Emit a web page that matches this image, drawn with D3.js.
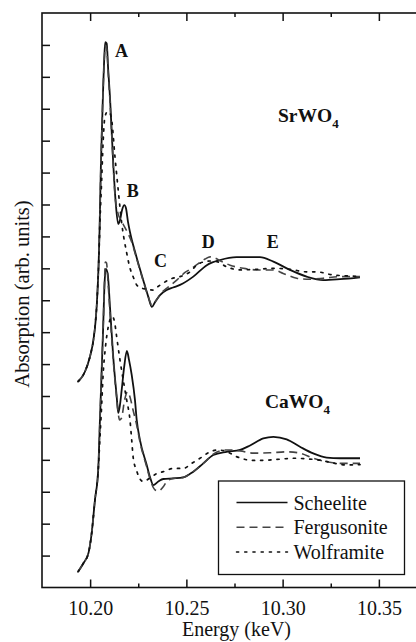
<!DOCTYPE html>
<html>
<head>
<meta charset="utf-8">
<script src="https://cdn.jsdelivr.net/npm/d3@7"></script>
<style>
  html, body { margin: 0; padding: 0; background: #fff; }
  svg { display: block; }
  svg text { font-family: "Liberation Serif", "Times New Roman", Times, "DejaVu Serif", serif !important; fill: #111; }
</style>
</head>
<body>
<svg id="chart" width="416" height="642" font-family="Liberation Serif, Times New Roman, DejaVu Serif, serif"></svg>
<script>
// W L3-edge XANES spectra (energy in keV, absorption in arbitrary units, curves offset vertically)
const energyTicks = [10.20, 10.25, 10.30, 10.35];
const energyMinorTicks = [10.225, 10.275, 10.325];
const absorptionTicks = d3.range(1, 18);

const srwo4Scheelite = [
  [10.1937,6.45],[10.1973,6.76],[10.1999,7.23],[10.2017,7.75],[10.2028,8.32],[10.2036,9.01],
  [10.2044,10.10],[10.2049,11.20],[10.2056,13.24],[10.2067,15.52],[10.2075,16.78],[10.2079,17.09],
  [10.2086,17.05],[10.2094,16.21],[10.2103,15.38],[10.2120,13.29],[10.2133,12.05],[10.2146,11.39],
  [10.2155,11.51],[10.2166,11.83],[10.2178,11.98],[10.2186,11.89],[10.2197,11.45],[10.2207,11.14],
  [10.2238,10.42],[10.2276,9.63],[10.2301,9.13],[10.2321,8.79],[10.2337,8.94],[10.2363,9.16],
  [10.2398,9.32],[10.2431,9.40],[10.2467,9.48],[10.2536,9.74],[10.2606,10.10],[10.2675,10.26],
  [10.2761,10.35],[10.2882,10.35],[10.2952,10.21],[10.3038,9.95],[10.3125,9.74],[10.3211,9.63],
  [10.3298,9.66],[10.3402,9.72]
];
const srwo4Fergusonite = [
  [10.1937,6.45],[10.1973,6.76],[10.1999,7.23],[10.2017,7.75],[10.2028,8.32],[10.2036,9.01],
  [10.2044,10.10],[10.2049,11.20],[10.2056,13.24],[10.2067,15.52],[10.2075,16.70],[10.2080,16.98],
  [10.2086,16.90],[10.2094,16.12],[10.2103,15.27],[10.2120,13.24],[10.2129,12.30],[10.2146,11.70],
  [10.2160,11.51],[10.2176,11.33],[10.2198,11.08],[10.2218,10.79],[10.2238,10.38],[10.2276,9.60],
  [10.2301,9.13],[10.2321,8.85],[10.2342,8.99],[10.2372,9.24],[10.2405,9.41],[10.2450,9.63],
  [10.2493,9.87],[10.2528,10.00],[10.2560,10.14],[10.2597,10.29],[10.2623,10.36],[10.2649,10.32],
  [10.2684,10.21],[10.2727,10.10],[10.2796,10.00],[10.2882,9.95],[10.2952,9.95],[10.3003,9.84],
  [10.3073,9.69],[10.3125,9.66],[10.3211,9.69],[10.3298,9.74],[10.3402,9.74]
];
const srwo4Wolframite = [
  [10.1937,6.45],[10.1973,6.76],[10.1999,7.23],[10.2017,7.75],[10.2028,8.32],[10.2036,9.01],
  [10.2044,10.10],[10.2051,11.42],[10.2060,12.77],[10.2068,14.02],[10.2077,14.75],[10.2091,14.91],
  [10.2101,14.88],[10.2112,14.65],[10.2129,13.50],[10.2146,12.45],[10.2164,11.42],[10.2190,10.48],
  [10.2207,10.01],[10.2224,9.73],[10.2242,9.48],[10.2259,9.40],[10.2290,9.35],[10.2328,9.32],
  [10.2353,9.43],[10.2380,9.54],[10.2424,9.68],[10.2467,9.74],[10.2519,9.89],[10.2554,10.10],
  [10.2588,10.20],[10.2623,10.23],[10.2658,10.21],[10.2709,10.05],[10.2779,9.95],[10.2865,9.97],
  [10.2952,10.00],[10.3038,9.97],[10.3125,9.89],[10.3177,9.89],[10.3263,9.79],[10.3350,9.76],
  [10.3402,9.74]
];

const cawo4Scheelite = [
  [10.1937,0.49],[10.1965,0.76],[10.1991,1.07],[10.2008,1.70],[10.2025,2.74],[10.2042,3.68],
  [10.2051,5.25],[10.2060,6.80],[10.2068,8.20],[10.2074,9.40],[10.2081,9.98],[10.2091,9.84],
  [10.2103,8.80],[10.2120,7.23],[10.2138,5.98],[10.2146,5.47],[10.2155,5.72],[10.2164,6.19],
  [10.2177,6.92],[10.2191,7.41],[10.2202,7.13],[10.2216,6.66],[10.2233,5.87],[10.2242,5.25],
  [10.2259,4.62],[10.2294,3.84],[10.2311,3.46],[10.2328,3.21],[10.2354,3.32],[10.2380,3.40],
  [10.2432,3.42],[10.2484,3.45],[10.2536,3.63],[10.2588,3.89],[10.2640,4.15],[10.2709,4.25],
  [10.2779,4.31],[10.2831,4.45],[10.2900,4.67],[10.2952,4.72],[10.3021,4.64],[10.3090,4.41],
  [10.3159,4.20],[10.3229,4.07],[10.3298,4.05],[10.3402,4.05]
];
const cawo4Fergusonite = [
  [10.1937,0.49],[10.1965,0.76],[10.1991,1.07],[10.2008,1.70],[10.2025,2.74],[10.2042,3.68],
  [10.2051,5.25],[10.2060,6.80],[10.2068,8.20],[10.2074,9.40],[10.2079,10.20],[10.2085,10.17],
  [10.2093,9.57],[10.2103,8.63],[10.2120,7.13],[10.2138,5.94],[10.2153,5.25],[10.2163,5.31],
  [10.2179,5.87],[10.2194,6.13],[10.2207,5.97],[10.2223,5.56],[10.2242,5.09],[10.2259,4.56],
  [10.2294,3.78],[10.2316,3.31],[10.2337,3.06],[10.2354,3.02],[10.2380,3.16],[10.2398,3.32],
  [10.2432,3.42],[10.2484,3.45],[10.2536,3.63],[10.2588,3.89],[10.2640,4.18],[10.2709,4.31],
  [10.2779,4.28],[10.2848,4.21],[10.2934,4.22],[10.3021,4.25],[10.3090,4.21],[10.3159,4.05],
  [10.3229,3.94],[10.3298,3.89],[10.3402,3.89]
];
const cawo4Wolframite = [
  [10.1937,0.49],[10.1965,0.76],[10.1991,1.07],[10.2008,1.70],[10.2025,2.74],[10.2042,3.68],
  [10.2051,4.68],[10.2060,5.72],[10.2068,6.72],[10.2079,7.50],[10.2094,8.16],[10.2106,8.43],
  [10.2116,8.49],[10.2127,8.32],[10.2138,7.85],[10.2155,7.13],[10.2172,6.50],[10.2190,5.87],
  [10.2207,5.25],[10.2216,4.62],[10.2224,4.06],[10.2242,3.65],[10.2259,3.40],[10.2276,3.32],
  [10.2311,3.43],[10.2346,3.57],[10.2380,3.63],[10.2432,3.73],[10.2484,3.73],[10.2528,3.89],
  [10.2571,4.05],[10.2623,4.25],[10.2664,4.31],[10.2709,4.26],[10.2761,4.10],[10.2848,3.98],
  [10.2917,3.99],[10.2986,4.02],[10.3055,4.05],[10.3125,4.03],[10.3194,3.99],[10.3263,3.90],
  [10.3333,3.84],[10.3402,3.85]
];

// Feature letters and compound names, anchored in data coordinates
const featureLabels = [
  { text: "A", e: 10.2129, a: 16.62 },
  { text: "B", e: 10.2190, a: 12.23 },
  { text: "C", e: 10.2332, a: 10.04 },
  { text: "D", e: 10.2580, a: 10.64 },
  { text: "E", e: 10.2917, a: 10.64 }
];
const compoundLabels = [
  { name: "SrWO", sub: "4", e: 10.2976, a: 14.58 },
  { name: "CaWO", sub: "4", e: 10.2908, a: 5.62 }
];
const phaseNames = ["Scheelite", "Fergusonite", "Wolframite"];
const phaseDash = { Scheelite: null, Fergusonite: "8,5", Wolframite: "2.2,6" };
const phaseColor = { Scheelite: "#111", Fergusonite: "#444", Wolframite: "#111" };
const phaseWidth = { Scheelite: 1.8, Fergusonite: 1.6, Wolframite: 1.7 };

const svg = d3.select("#chart");
const plotLeft = 42, plotTop = 13, plotRight = 427, plotBottom = 587.5;

const x = d3.scaleLinear().domain([10.175, 10.375]).range([plotLeft, plotRight]);
const y = d3.scaleLinear().domain([0, 18]).range([plotBottom, plotTop]);

// Axes with inward ticks
function styleAxis(g) {
  g.attr("font-family", null);
  g.select(".domain").remove();
  g.selectAll(".tick line").attr("stroke", "#111").attr("stroke-width", 1.5);
}
svg.append("g").attr("transform", `translate(0,${plotBottom})`)
  .call(d3.axisBottom(x).tickValues(energyTicks).tickSize(-8).tickFormat(d3.format(".2f")))
  .call(styleAxis)
  .call(g => g.selectAll("text").attr("y", 27.5).attr("dy", 0)
    .style("font-size", "20px").attr("fill", "#111"));
svg.append("g").attr("transform", `translate(0,${plotBottom})`)
  .call(d3.axisBottom(x).tickValues(energyMinorTicks).tickSize(-4).tickFormat(""))
  .call(styleAxis);
svg.append("g").attr("transform", `translate(0,${plotTop})`)
  .call(d3.axisTop(x).tickValues(energyTicks).tickSize(-8).tickFormat(""))
  .call(styleAxis);
svg.append("g").attr("transform", `translate(0,${plotTop})`)
  .call(d3.axisTop(x).tickValues(energyMinorTicks).tickSize(-4).tickFormat(""))
  .call(styleAxis);
svg.append("g").attr("transform", `translate(${plotLeft},0)`)
  .call(d3.axisLeft(y).tickValues(absorptionTicks).tickSize(-8).tickFormat(""))
  .call(styleAxis);
svg.append("g").attr("transform", `translate(${plotRight},0)`)
  .call(d3.axisRight(y).tickValues(absorptionTicks).tickSize(-8).tickFormat(""))
  .call(styleAxis);

svg.append("rect")
  .attr("x", plotLeft).attr("y", plotTop)
  .attr("width", plotRight - plotLeft).attr("height", plotBottom - plotTop)
  .attr("fill", "none").attr("stroke", "#111").attr("stroke-width", 1.6);

// Spectra
const line = d3.line().x(d => x(d[0])).y(d => y(d[1])).curve(d3.curveMonotoneX);
const spectra = [
  { phase: "Scheelite", data: srwo4Scheelite },
  { phase: "Fergusonite", data: srwo4Fergusonite },
  { phase: "Wolframite", data: srwo4Wolframite },
  { phase: "Scheelite", data: cawo4Scheelite },
  { phase: "Fergusonite", data: cawo4Fergusonite },
  { phase: "Wolframite", data: cawo4Wolframite }
];
svg.append("g").selectAll("path").data(spectra).join("path")
  .attr("d", d => line(d.data))
  .attr("fill", "none")
  .attr("stroke", d => phaseColor[d.phase])
  .attr("stroke-width", d => phaseWidth[d.phase])
  .attr("stroke-dasharray", d => phaseDash[d.phase])
  .attr("stroke-linecap", d => d.phase === "Wolframite" ? "round" : "butt")
  .attr("stroke-linejoin", "round");

// Annotations
svg.append("g").selectAll("text").data(featureLabels).join("text")
  .attr("x", d => x(d.e)).attr("y", d => y(d.a))
  .style("font-size", "18px").style("font-weight", "bold")
  .text(d => d.text);

const cl = svg.append("g").selectAll("text").data(compoundLabels).join("text")
  .attr("x", d => x(d.e)).attr("y", d => y(d.a))
  .style("font-size", "19.5px").style("font-weight", "bold");
cl.append("tspan").text(d => d.name);
cl.append("tspan").attr("dy", 6).style("font-size", "13px").text(d => d.sub);

// Axis titles
svg.append("text")
  .attr("x", 236.5).attr("y", 636)
  .attr("text-anchor", "middle")
  .style("font-size", "20px")
  .text("Energy (keV)");
svg.append("text")
  .attr("transform", "translate(29,294) rotate(-90)")
  .attr("text-anchor", "middle")
  .style("font-size", "20.5px")
  .text("Absorption (arb. units)");

// Legend
const legend = svg.append("g").attr("transform", "translate(218.5,481)");
legend.append("rect")
  .attr("width", 186).attr("height", 93.5)
  .attr("fill", "#fff").attr("stroke", "#111").attr("stroke-width", 1.3);
const rows = legend.selectAll("g").data(phaseNames).join("g")
  .attr("transform", (d, i) => `translate(0,${21.5 + i * 24.7})`);
rows.append("line")
  .attr("x1", 18).attr("x2", 69)
  .attr("stroke", d => phaseColor[d])
  .attr("stroke-width", 1.5)
  .attr("stroke-dasharray", d => phaseDash[d])
  .attr("stroke-linecap", d => d === "Wolframite" ? "round" : "butt");
rows.append("text")
  .attr("x", 75).attr("y", 7)
  .style("font-size", "20px")
  .text(d => d);
</script>
</body>
</html>
